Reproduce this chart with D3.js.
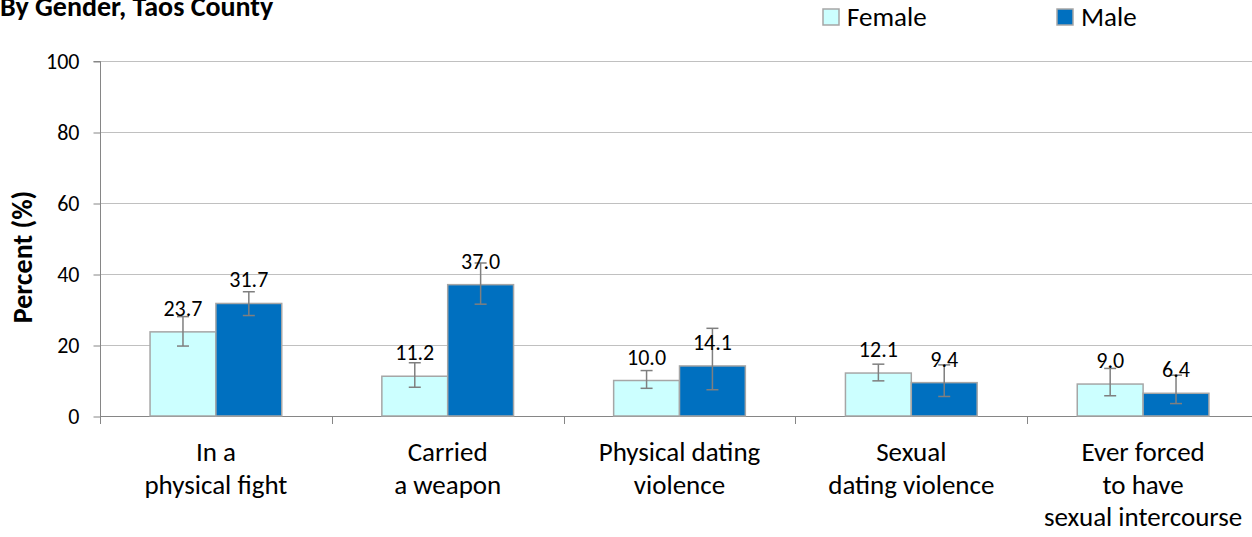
<!DOCTYPE html>
<html>
<head>
<meta charset="utf-8">
<style>
  body { margin: 0; background: #fff; }
  svg text { font-family: Carlito, 'Open Sans', 'Liberation Sans', sans-serif; fill: #000; }
  .grid line { stroke: #c0c0c0; }
</style>
</head>
<body>
<div id="chart"></div>
<script src="https://d3js.org/d3.v7.min.js"></script>
<script>
var categories = [["In a", "physical fight"], ["Carried", "a weapon"], ["Physical dating", "violence"],
                  ["Sexual", "dating violence"], ["Ever forced", "to have", "sexual intercourse"]];
var series = ["Female", "Male"];
var female = [23.7, 11.2, 10.0, 12.1, 9.0];
var femaleLow = [19.7, 8.1, 7.8, 9.9, 5.7];
var femaleHigh = [28.0, 15.0, 12.8, 14.6, 13.4];
var male = [31.7, 37.0, 14.1, 9.4, 6.4];
var maleLow = [28.3, 31.5, 7.4, 5.5, 3.5];
var maleHigh = [35.0, 43.1, 24.7, 14.4, 11.5];
var yTicks = [0, 20, 40, 60, 80, 100];

var width = 1252, height = 537;
var colors = { Female: "#ccffff", Male: "#0070c0" };

var svg = d3.select("#chart").append("svg")
  .attr("width", width)
  .attr("height", height);

var x = d3.scaleBand()
  .domain(d3.range(categories.length))
  .range([100, 1259])
  .paddingInner(0)
  .paddingOuter(0);

var inner = d3.scaleBand()
  .domain(series)
  .range([0, x.bandwidth()])
  .paddingOuter(0.76)
  .paddingInner(0);

var y = d3.scaleLinear().domain([0, 100]).range([416, 61]);

// gridlines
svg.append("g").attr("class", "grid")
  .selectAll("line").data(yTicks.slice(1)).enter().append("line")
  .attr("x1", 100).attr("x2", 1252)
  .attr("y1", function(d) { return y(d) + 0.5; })
  .attr("y2", function(d) { return y(d) + 0.5; });

// y axis
var yAxis = svg.append("g")
  .attr("transform", "translate(100.5,0.5)")
  .call(d3.axisLeft(y).tickValues(yTicks).tickSize(7).tickPadding(14));
yAxis.select(".domain").attr("stroke", "#868686").attr("d", "M-7," + y(100) + "H0V" + y(0));
yAxis.selectAll(".tick line").attr("stroke", "#868686");
yAxis.selectAll(".tick text").style("font-size", "22px").attr("fill", "#000");

// x axis baseline and ticks
svg.append("line")
  .attr("x1", 100).attr("x2", 1252)
  .attr("y1", y(0) + 0.5).attr("y2", y(0) + 0.5)
  .attr("stroke", "#868686");
svg.append("g").selectAll("line").data(d3.range(categories.length + 1)).enter().append("line")
  .attr("x1", function(i) { return Math.round(100 + i * x.bandwidth()) + 0.5; })
  .attr("x2", function(i) { return Math.round(100 + i * x.bandwidth()) + 0.5; })
  .attr("y1", y(0)).attr("y2", y(0) + 8)
  .attr("stroke", "#868686");

var rows = [];
categories.forEach(function(c, i) {
  rows.push({ i: i, s: "Female", v: female[i], lo: femaleLow[i], hi: femaleHigh[i] });
  rows.push({ i: i, s: "Male", v: male[i], lo: maleLow[i], hi: maleHigh[i] });
});

function cx(d) { return x(d.i) + inner(d.s) + inner.bandwidth() / 2; }

svg.append("g").selectAll("rect").data(rows).enter().append("rect")
  .attr("x", function(d) { return x(d.i) + inner(d.s); })
  .attr("y", function(d) { return y(d.v); })
  .attr("width", inner.bandwidth())
  .attr("height", function(d) { return y(0) - y(d.v); })
  .attr("fill", function(d) { return colors[d.s]; })
  .attr("stroke", "#a6a6a6")
  .attr("stroke-width", 1.5);

// error bars
var err = svg.append("g").attr("stroke", "#7f7f7f").attr("stroke-width", 1.5);
rows.forEach(function(d) {
  var c = cx(d);
  err.append("line").attr("x1", c).attr("x2", c).attr("y1", y(d.lo)).attr("y2", y(d.hi));
  err.append("line").attr("x1", c - 6).attr("x2", c + 6).attr("y1", y(d.lo)).attr("y2", y(d.lo));
  err.append("line").attr("x1", c - 6).attr("x2", c + 6).attr("y1", y(d.hi)).attr("y2", y(d.hi));
});

// value labels
svg.append("g").selectAll("text").data(rows).enter().append("text")
  .attr("x", function(d) { return cx(d); })
  .attr("y", function(d) { return y(d.v) - 16; })
  .attr("text-anchor", "middle")
  .style("font-size", "22px")
  .text(function(d) { return d.v.toFixed(1); });

// category labels
var cat = svg.append("g").selectAll("text").data(categories).enter().append("text")
  .attr("text-anchor", "middle")
  .style("font-size", "27px")
  .attr("transform", function(d, i) { return "translate(" + (x(i) + x.bandwidth() / 2) + ",461)"; });
cat.selectAll("tspan").data(function(d) { return d; }).enter().append("tspan")
  .attr("x", 0)
  .attr("y", function(d, j) { return j * 32.5; })
  .text(function(d) { return d; });

// y title
svg.append("text")
  .attr("transform", "translate(32,257) rotate(-90)")
  .attr("text-anchor", "middle")
  .style("font-size", "28px")
  .style("font-weight", "bold")
  .text("Percent (%)");

// chart title (clipped at top)
svg.append("text")
  .attr("x", 0).attr("y", 16)
  .style("font-size", "28px")
  .style("font-weight", "bold")
  .text("By Gender, Taos County");

// legend
var legX = [823, 1057];
var leg = svg.append("g").selectAll("g").data(series).enter().append("g")
  .attr("transform", function(d, i) { return "translate(" + legX[i] + ",9)"; });
leg.append("rect")
  .attr("width", 16).attr("height", 16)
  .attr("fill", function(d) { return colors[d]; })
  .attr("stroke", "#a6a6a6").attr("stroke-width", 1.5);
leg.append("text")
  .attr("x", 24).attr("y", 17)
  .style("font-size", "27px")
  .text(function(d) { return d; });
</script>
</body>
</html>
